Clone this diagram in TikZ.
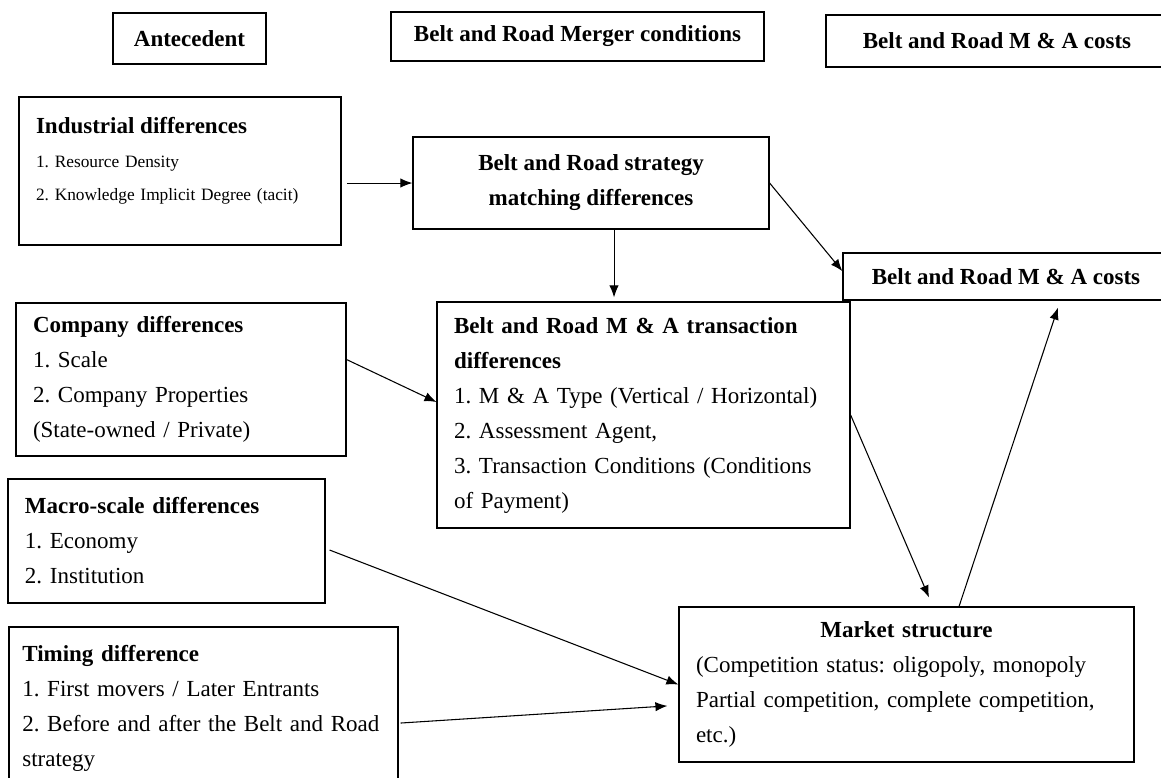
\documentclass[tikz,border=0pt]{standalone}
\usepackage{fontspec}
\setmainfont{Liberation Serif}
\usetikzlibrary{arrows.meta}
\frenchspacing

\tikzset{
  head/.style={shape=rectangle, draw, line width=0.9pt, inner sep=0pt, font=\fontsize{17.25}{26.25}\selectfont\bfseries},
  factor/.style={shape=rectangle, draw, line width=0.9pt, inner xsep=12.75pt, inner ysep=0pt, align=left, font=\fontsize{17.25}{26.25}\selectfont},
}

\begin{document}
\begin{tikzpicture}[x=0.75pt, y=-0.75pt, line width=0.8pt, >={Latex[length=9pt,width=7pt]}]
\useasboundingbox (0,0) rectangle (1161,778);

\node [head, minimum width=114.75pt, minimum height=38.25pt] (ante) at (189.5,38.5) {Antecedent};
\node [head, minimum width=279.75pt, minimum height=36.75pt, right of=ante, node distance=291pt, yshift=1.5pt] (cond) {Belt and Road Merger conditions};
\node [head, minimum width=256.5pt, minimum height=39pt, right of=cond, node distance=314.6pt, yshift=-3.4pt] (costhead) {Belt and Road M \& A costs};

\node [factor, text width=216pt, minimum height=111pt, below of=ante, node distance=99.4pt, xshift=-7.1pt, font=\fontsize{13}{25}\selectfont] (indus) {{\fontsize{17.25}{25}\selectfont\bfseries Industrial differences}\\1. Resource Density\\2. Knowledge Implicit Degree (tacit)\rule[-18pt]{0pt}{0pt}};
\node [head, align=center, minimum width=267pt, minimum height=69pt, right of=indus, node distance=308.25pt, yshift=-9pt] (match) {Belt and Road strategy\\matching differences};
\node [head, minimum width=244.5pt, minimum height=35.25pt, below of=costhead, node distance=176.6pt, xshift=6.75pt] (cost) {Belt and Road M \& A costs};

\node [factor, text width=222pt, minimum height=114.75pt, below of=indus, node distance=156.4pt, xshift=0.75pt] (comp) {\textbf{Company differences}\\1. Scale\\2. Company Properties\\(State-owned / Private)};
\node [factor, text width=284.25pt, minimum height=169.5pt, below of=match, node distance=174pt, xshift=39.4pt] (trans) {\textbf{Belt and Road M \& A transaction}\\\textbf{differences}\\1. M \& A Type (Vertical / Horizontal)\\2. Assessment Agent,\\3. Transaction Conditions (Conditions\\of Payment)};
\node [factor, text width=212.25pt, minimum height=93pt, below of=comp, node distance=121.1pt, xshift=-10.9pt] (macro) {\textbf{Macro-scale differences}\\1. Economy\\2. Institution};
\node [factor, inner xsep=10pt, text width=271.75pt, minimum height=121.5pt, below of=macro, node distance=125.25pt, xshift=27.75pt] (timing) {\textbf{Timing difference}\\1. First movers / Later Entrants\\2. Before and after the Belt and Road\\strategy};
\node [factor, text width=315.75pt, minimum height=116.25pt, right of=timing, node distance=527.25pt, yshift=17.6pt] (market) {\makebox[\hsize]{\bfseries Market structure}\\(Competition status: oligopoly, monopoly\\Partial competition, complete competition,\\etc.)};

\draw[->] ([xshift=4pt]indus.east |- match.west) -- (match.west);
\coordinate (drop) at ([xshift=17.25pt]match.south);
\draw[->, shorten >=3pt] (drop) -- (drop |- trans.north);
\draw[->] (match.east) -- ([yshift=4pt]cost.west);
\draw[->] ([yshift=15pt]comp.east) -- ([yshift=9.75pt]trans.west);
\draw[->] (trans.east) -- ([xshift=16.9pt, yshift=6.75pt]market.north);
\draw[->] ([xshift=39.4pt]market.north) -- ([xshift=39pt, yshift=-5.25pt]cost.south);
\draw[->] ([xshift=3pt, yshift=-6.75pt]macro.east) -- (market.west);
\draw[->] ([xshift=1.5pt, yshift=-11.25pt]timing.east) -- ([xshift=-8.25pt, yshift=-16pt]market.west);
\end{tikzpicture}
\end{document}
